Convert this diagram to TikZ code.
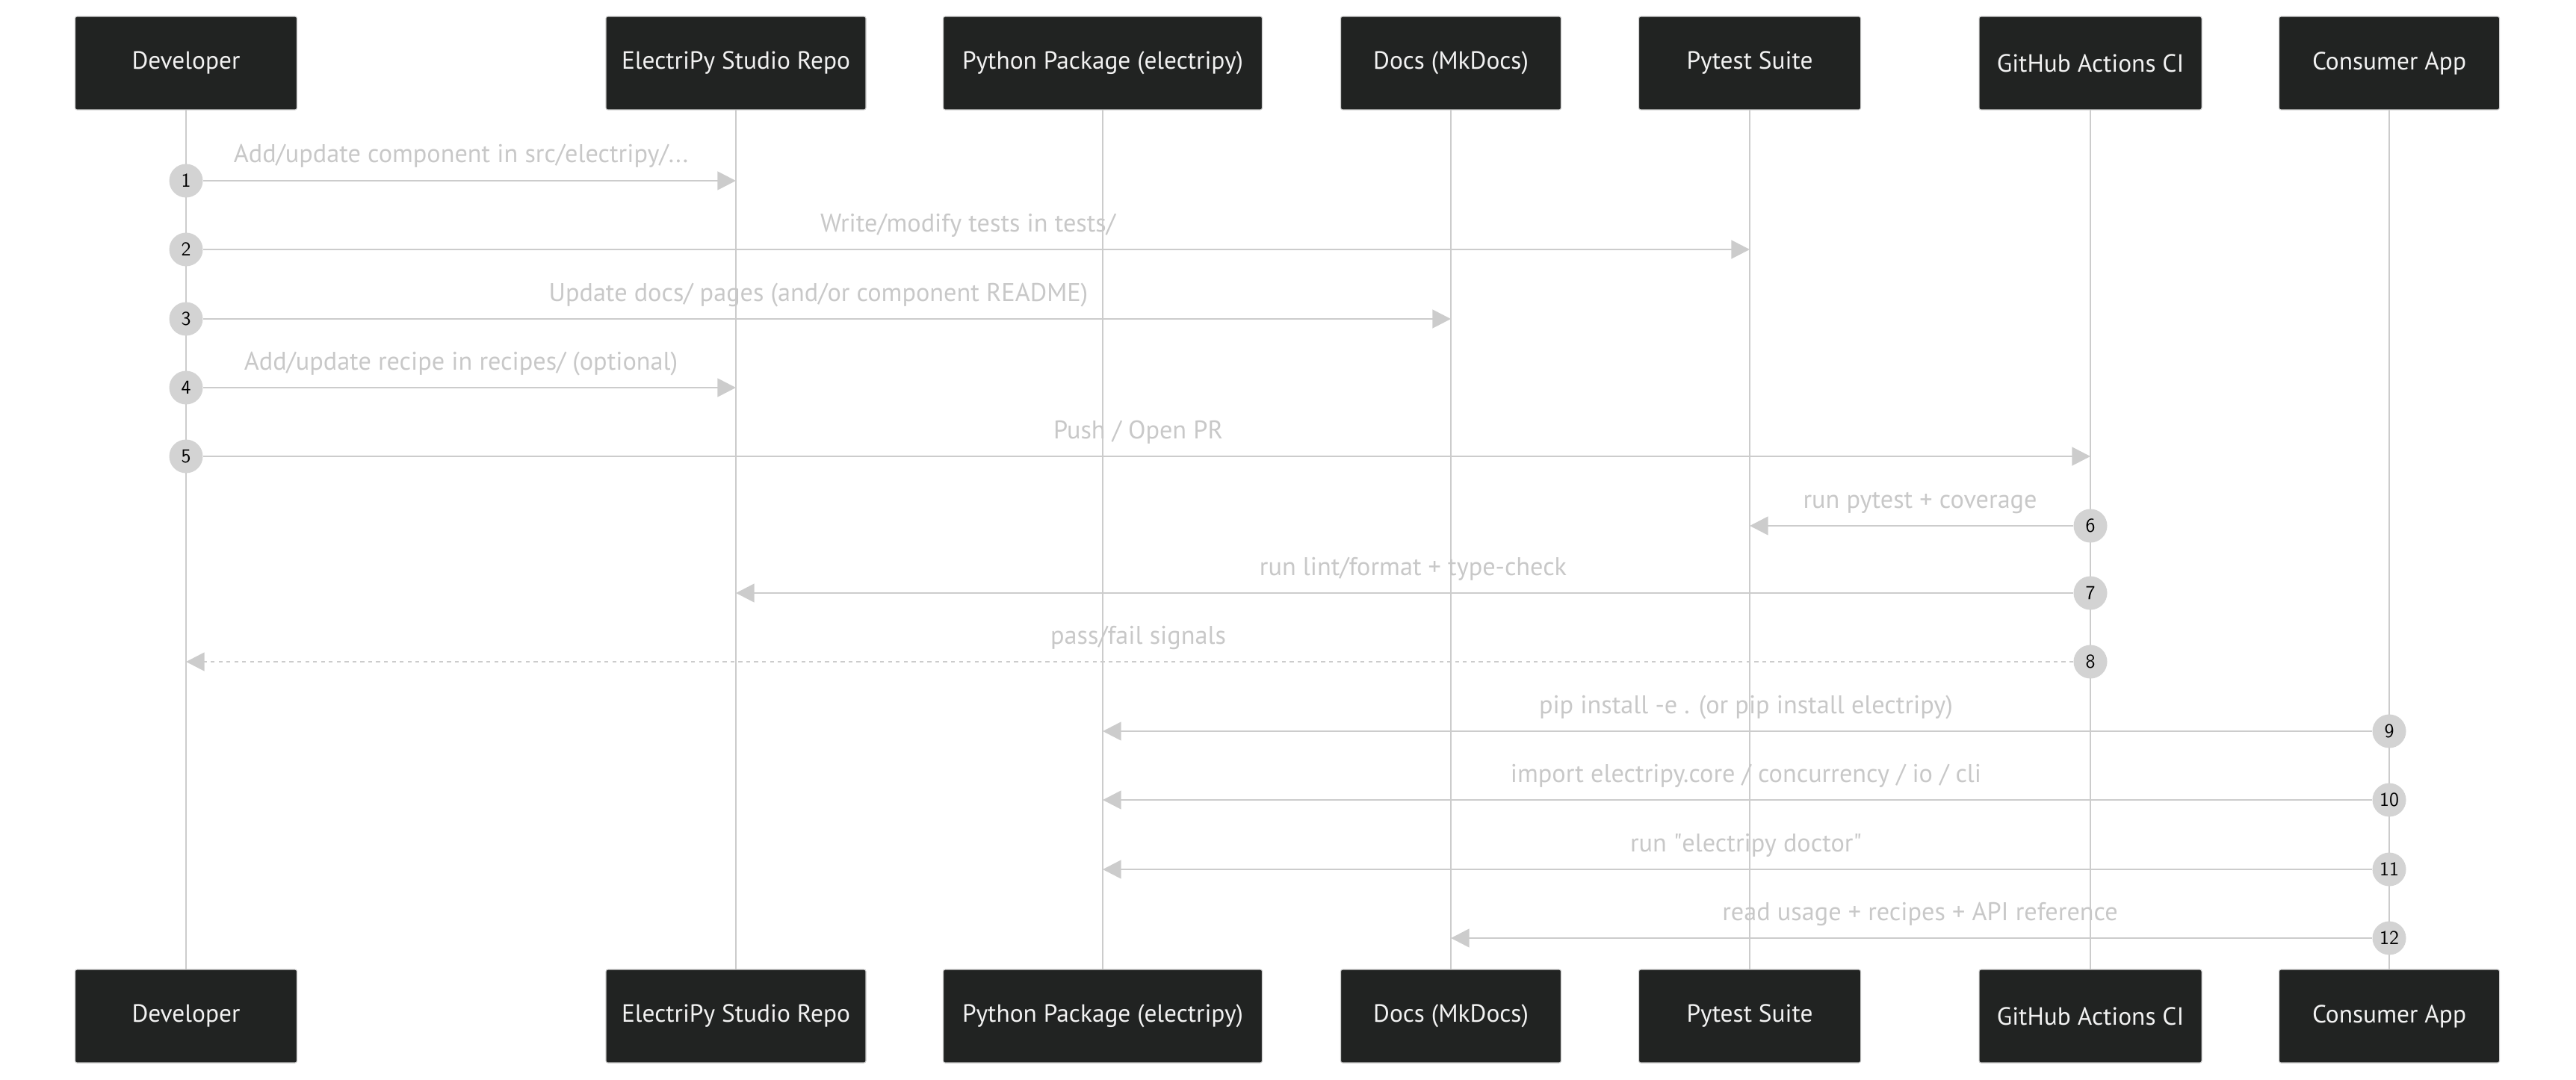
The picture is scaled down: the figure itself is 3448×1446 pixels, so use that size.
\documentclass[tikz,border=0pt]{standalone}
\usepackage{fontspec}
\setmainfont{PT Sans}[Ligatures=NoCommon]
\usetikzlibrary{arrows.meta}
\definecolor{boxc}{HTML}{212322}
\definecolor{linec}{HTML}{CCCCCC}
\definecolor{txtc}{HTML}{C8C8C8}
\definecolor{circ}{HTML}{D3D3D3}
\begin{document}
\begin{tikzpicture}[x=0.02cm,y=-0.02cm,
  actor/.style={draw=linec,line width=0.6pt,fill=boxc,rounded corners=1.5pt,minimum height=2.5cm,text=white!90!gray,font=\fontsize{19}{21}\selectfont,inner sep=0pt},
  life/.style={draw=linec,line width=1.6pt},
  msg/.style={draw=linec,line width=1.6pt,-{Triangle[length=14pt,width=14pt]}},
  lbl/.style={text=txtc,font=\fontsize{19.5}{21}\selectfont,anchor=base},
  num/.style={circle,fill=circ,inner sep=0pt,minimum size=0.9cm,font=\sffamily\fontsize{15}{16}\selectfont,text=black}]
\useasboundingbox (0,0) rectangle (3448,1446);
\foreach \n/\x/\w/\t in {dev/249/297/Developer, repo/985/348/ElectriPy Studio Repo, pkg/1476/427/Python Package (electripy), docs/1942/295/Docs (MkDocs), pyt/2342/297/Pytest Suite, gha/2798/298/GitHub Actions CI, con/3198/295/Consumer App}{
  \draw[life] (\x,147) -- (\x,1298);
  \node[actor,minimum width=\w*0.02cm] (\n T) at (\x,84.5) {\t};
  \node[actor,minimum width=\w*0.02cm] (\n B) at (\x,1360.5) {\t};
}
% messages
\def\mm#1#2#3#4#5#6{%
  \coordinate (a#1) at (#2,#4); \coordinate (b#1) at (#3,#4);
  \node[num] (n#1) at (a#1) {#1};
  \draw[msg,#6] (n#1) -- (b#1);
  \node[lbl] (l#1) at ({(#2+#3)/2},{#4-24}) {#5};}
\mm{1}{249}{985}{242}{Add/update component in src/electripy/...}{}
\mm{2}{249}{2342}{334}{Write/modify tests in tests/}{}
\mm{3}{249}{1942}{427}{Update docs/ pages (and/or component README)}{}
\mm{4}{249}{985}{519}{Add/update recipe in recipes/ (optional)}{}
\mm{5}{249}{2798}{611}{Push / Open PR}{}
\mm{6}{2798}{2342}{704}{run pytest + coverage}{}
\mm{7}{2798}{985}{794}{run lint/format + type-check}{}
\mm{8}{2798}{249}{886}{pass/fail signals}{dash pattern=on 3pt off 3pt}
\mm{9}{3198}{1476}{979}{pip install -e . (or pip install electripy)}{}
\mm{10}{3198}{1476}{1071}{import electripy.core / concurrency / io / cli}{}
\mm{11}{3198}{1476}{1164}{run \textquotedbl electripy doctor\textquotedbl}{}
\mm{12}{3198}{1942}{1256}{read usage + recipes + API reference}{}
\end{tikzpicture}
\end{document}
